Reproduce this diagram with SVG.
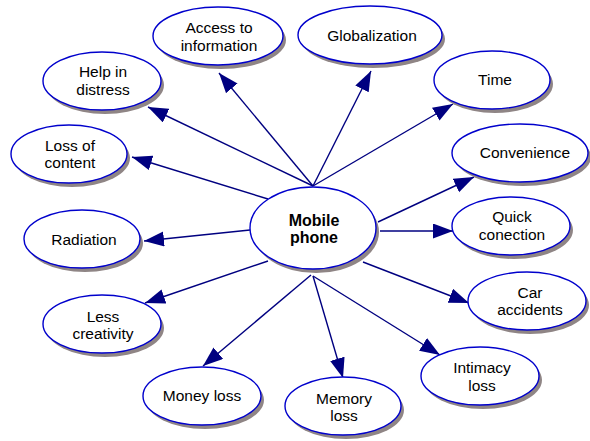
<svg xmlns="http://www.w3.org/2000/svg" width="590" height="441" viewBox="0 0 590 441">
<defs>
<marker id="arr" markerUnits="userSpaceOnUse" markerWidth="22" markerHeight="16" refX="20" refY="7.5" orient="auto"><path d="M0,0 L20,7.5 L0,15 z" fill="#000080"/></marker>
</defs>
<style>
.sh{fill:#8f8585;stroke:none}
.nd{fill:#ffffff;stroke:#0000cc;stroke-width:1.4}
.t{font-family:"Liberation Sans",Arial,sans-serif;font-size:15.5px;fill:#000;text-anchor:middle}
.b{font-weight:bold;font-size:16px}
.e line{stroke:#000080;stroke-width:1.4;marker-end:url(#arr)}
</style>
<rect width="590" height="441" fill="#fff"/>
<g id="connectors" class="e">
<line x1="313" y1="186" x2="148" y2="107"/>
<line x1="268" y1="199" x2="132" y2="157"/>
<line x1="313" y1="186" x2="219" y2="73"/>
<line x1="313" y1="186" x2="371" y2="71"/>
<line x1="313" y1="186" x2="453" y2="104"/>
<line x1="378" y1="222" x2="474" y2="177"/>
<line x1="380" y1="231" x2="453" y2="231"/>
<line x1="363" y1="262" x2="469" y2="303"/>
<line x1="313" y1="276" x2="440" y2="355"/>
<line x1="313" y1="276" x2="343" y2="378"/>
<line x1="311" y1="275" x2="203" y2="366"/>
<line x1="268" y1="261" x2="145" y2="303"/>
<line x1="250" y1="230" x2="144" y2="241"/>
</g>
<g id="mobile"><ellipse class="sh" cx="316" cy="232" rx="63" ry="41"/><ellipse class="nd" cx="313" cy="228" rx="63" ry="41"/><text class="t b" x="314" y="226">Mobile</text><text class="t b" x="314" y="243">phone</text></g>
<g id="access"><ellipse class="sh" cx="221" cy="40" rx="65" ry="29"/><ellipse class="nd" cx="218" cy="36" rx="65" ry="29"/><text class="t" x="219" y="33">Access to</text><text class="t" x="219" y="51">information</text></g>
<g id="help"><ellipse class="sh" cx="105" cy="85" rx="59" ry="29"/><ellipse class="nd" cx="102" cy="81" rx="59" ry="29"/><text class="t" x="103" y="77">Help in</text><text class="t" x="103" y="95">distress</text></g>
<g id="lossc"><ellipse class="sh" cx="72" cy="158" rx="58" ry="29"/><ellipse class="nd" cx="69" cy="154" rx="58" ry="29"/><text class="t" x="70" y="151">Loss of</text><text class="t" x="70" y="168">content</text></g>
<g id="glob"><ellipse class="sh" cx="373" cy="39" rx="72" ry="29"/><ellipse class="nd" cx="370" cy="35" rx="72" ry="29"/><text class="t" x="372" y="41">Globalization</text></g>
<g id="time"><ellipse class="sh" cx="495" cy="84" rx="58" ry="29"/><ellipse class="nd" cx="492" cy="80" rx="58" ry="29"/><text class="t" x="495" y="85">Time</text></g>
<g id="conv"><ellipse class="sh" cx="523" cy="157" rx="68" ry="29"/><ellipse class="nd" cx="520" cy="153" rx="68" ry="29"/><text class="t" x="525" y="158">Convenience</text></g>
<g id="quick"><ellipse class="sh" cx="514" cy="230" rx="59" ry="29"/><ellipse class="nd" cx="511" cy="226" rx="59" ry="29"/><text class="t" x="512" y="222">Quick</text><text class="t" x="512" y="240">conection</text></g>
<g id="car"><ellipse class="sh" cx="530" cy="305" rx="59" ry="29"/><ellipse class="nd" cx="527" cy="301" rx="59" ry="29"/><text class="t" x="530" y="298">Car</text><text class="t" x="530" y="315">accidents</text></g>
<g id="intim"><ellipse class="sh" cx="483" cy="380" rx="59" ry="29"/><ellipse class="nd" cx="480" cy="376" rx="59" ry="29"/><text class="t" x="482" y="373">Intimacy</text><text class="t" x="482" y="391">loss</text></g>
<g id="memory"><ellipse class="sh" cx="346" cy="410" rx="58" ry="29"/><ellipse class="nd" cx="343" cy="406" rx="58" ry="29"/><text class="t" x="344" y="404">Memory</text><text class="t" x="344" y="421">loss</text></g>
<g id="money"><ellipse class="sh" cx="205" cy="400" rx="59" ry="29"/><ellipse class="nd" cx="202" cy="396" rx="59" ry="29"/><text class="t" x="202" y="401">Money loss</text></g>
<g id="less"><ellipse class="sh" cx="105" cy="328" rx="59" ry="29"/><ellipse class="nd" cx="102" cy="324" rx="59" ry="29"/><text class="t" x="103" y="322">Less</text><text class="t" x="103" y="339">creativity</text></g>
<g id="rad"><ellipse class="sh" cx="85" cy="243" rx="58" ry="29"/><ellipse class="nd" cx="82" cy="239" rx="58" ry="29"/><text class="t" x="84" y="245">Radiation</text></g>
</svg>
